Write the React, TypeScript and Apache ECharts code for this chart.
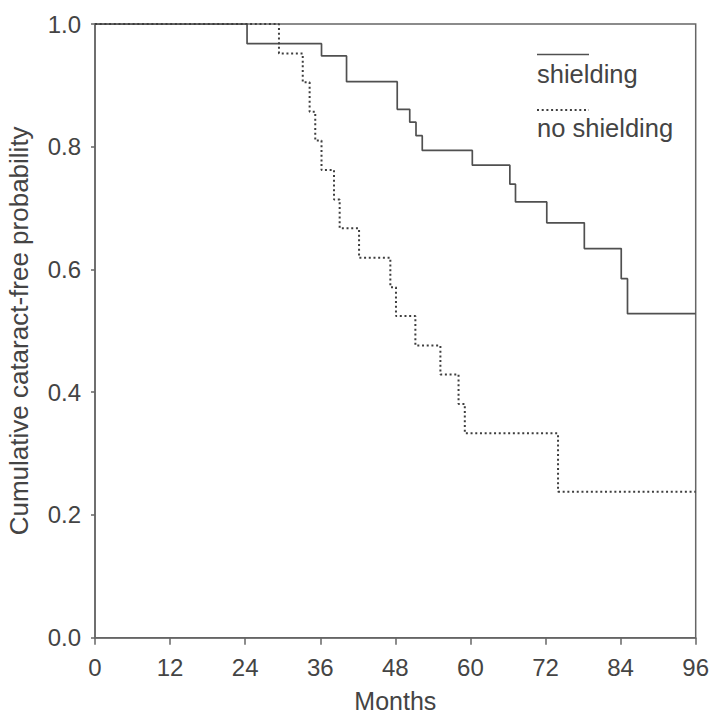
import React, { useEffect, useRef } from "react";
import * as echarts from "echarts";

const xTicks = [0, 12, 24, 36, 48, 60, 72, 84, 96];
const yTicks = [0, 0.2, 0.4, 0.6, 0.8, 1.0];

const shieldMonths = [0, 24.3, 36.2, 40.2, 48.3, 50.3, 51.3, 52.3, 60.3, 66.3, 67.2, 72.2, 78.2, 84.1, 85.1, 96];
const shieldSurv = [1.0, 0.968, 0.948, 0.906, 0.861, 0.84, 0.818, 0.794, 0.77, 0.739, 0.71, 0.676, 0.634, 0.585, 0.528, 0.528];

const noShieldMonths = [0, 29.4, 33.2, 34.3, 35.2, 36.2, 38.2, 39.1, 42.2, 47.2, 48.1, 51.2, 55.2, 58.1, 59.1, 74.0, 96];
const noShieldSurv = [1.0, 0.952, 0.905, 0.857, 0.81, 0.762, 0.714, 0.667, 0.619, 0.571, 0.524, 0.476, 0.429, 0.381, 0.333, 0.238, 0.238];

const legendLabels = ["shielding", "no shielding"];

const FONT = "'Liberation Sans', Arial, sans-serif";
const TEXT = "#444444";
const LINE = "#505050";
const AXIS = "#666666";

export default function App() {
  const ref = useRef<HTMLDivElement>(null);
  useEffect(() => {
    if (!ref.current) return;
    const chart = echarts.init(ref.current, undefined, { renderer: "svg" });
    const toPairs = (xs: number[], ys: number[]) => xs.map((x, i) => [x, ys[i]]);
    chart.setOption({
      animation: false,
      backgroundColor: "#ffffff",
      grid: {
        left: 95,
        top: 24,
        right: 13.3,
        bottom: 76.3,
        containLabel: false,
        outerBoundsMode: "none",
        show: true,
        borderColor: AXIS,
        borderWidth: 1.5,
        backgroundColor: "transparent",
      },
      xAxis: {
        type: "value",
        min: xTicks[0],
        max: xTicks[xTicks.length - 1],
        interval: 12,
        name: "Months",
        nameLocation: "middle",
        nameGap: 51,
        nameTextStyle: { fontFamily: FONT, fontSize: 25, color: TEXT },
        axisLine: { show: true, lineStyle: { color: AXIS, width: 1.5 } },
        axisTick: { show: true, length: 7, inside: false, lineStyle: { color: AXIS, width: 1.5 } },
        axisLabel: {
          margin: 18,
          fontFamily: FONT,
          fontSize: 24,
          color: TEXT,
          showMinLabel: true,
          showMaxLabel: true,
        },
        splitLine: { show: false },
      },
      yAxis: {
        type: "value",
        min: yTicks[0],
        max: yTicks[yTicks.length - 1],
        interval: 0.2,
        name: "Cumulative cataract-free probability",
        nameLocation: "middle",
        nameGap: 63,
        nameTextStyle: { fontFamily: FONT, fontSize: 26, color: TEXT },
        axisLine: { show: true, lineStyle: { color: AXIS, width: 1.5 } },
        axisTick: { show: true, length: 4, inside: false, lineStyle: { color: AXIS, width: 1.5 } },
        axisLabel: {
          margin: 14,
          fontFamily: FONT,
          fontSize: 24,
          color: TEXT,
          formatter: (v: number) => v.toFixed(1),
        },
        splitLine: { show: false },
      },
      series: [
        {
          name: legendLabels[0],
          type: "line",
          step: "end",
          symbol: "none",
          data: toPairs(shieldMonths, shieldSurv),
          lineStyle: { color: LINE, width: 1.7, type: "solid" },
        },
        {
          name: legendLabels[1],
          type: "line",
          step: "end",
          symbol: "none",
          data: toPairs(noShieldMonths, noShieldSurv),
          lineStyle: { color: "#3e3e3e", width: 2, type: [2, 2.7] },
        },
      ],
      graphic: [
        {
          type: "line",
          shape: { x1: 537, y1: 54.5, x2: 589, y2: 54.5 },
          style: { stroke: LINE, lineWidth: 1.7 },
        },
        {
          type: "text",
          x: 537,
          y: 74,
          style: {
            text: legendLabels[0],
            font: `25.5px ${FONT}`,
            fill: TEXT,
            textAlign: "left",
            textVerticalAlign: "middle",
          },
        },
        {
          type: "line",
          shape: { x1: 537, y1: 110, x2: 589, y2: 110 },
          style: { stroke: "#3e3e3e", lineWidth: 2, lineDash: [2, 2.7] },
        },
        {
          type: "text",
          x: 537,
          y: 128,
          style: {
            text: legendLabels[1],
            font: `25.5px ${FONT}`,
            fill: TEXT,
            textAlign: "left",
            textVerticalAlign: "middle",
          },
        },
      ],
    });
    return () => chart.dispose();
  }, []);
  return (
    <div
      ref={ref}
      style={{ position: "fixed", left: 0, top: 0, width: 709, height: 714 }}
    />
  );
}
